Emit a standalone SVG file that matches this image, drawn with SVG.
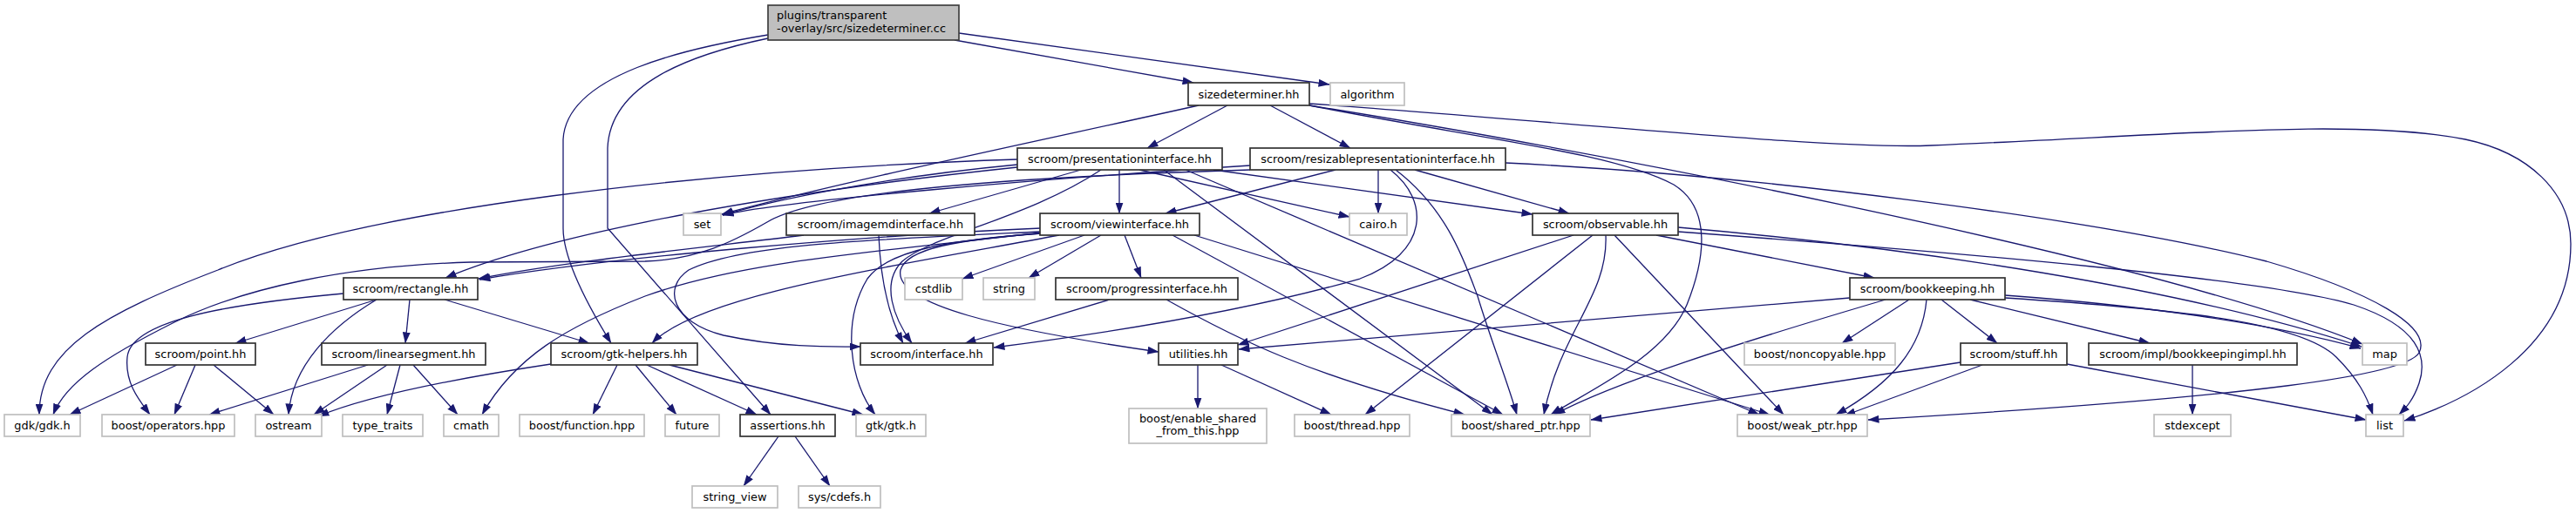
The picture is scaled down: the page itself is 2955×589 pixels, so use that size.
<svg xmlns="http://www.w3.org/2000/svg" width="2955" height="589" viewBox="0 0 2955 589">
<style>
.bg{fill:#ffffff}
.e path{fill:none;stroke:#191970;stroke-width:1.3;marker-end:url(#ah)}
.p rect{fill:#ffffff;stroke:#333333;stroke-width:1.7}
.s rect{fill:#ffffff;stroke:#bfbfbf;stroke-width:1.7}
.m rect{fill:#bfbfbf;stroke:#404040;stroke-width:1.7}
text{font-family:"DejaVu Sans","Liberation Sans",sans-serif;font-size:12.9px;fill:#000000;text-anchor:middle}
text.l{text-anchor:start}
</style>
<defs>
<marker id="ah" markerUnits="userSpaceOnUse" markerWidth="13" markerHeight="9" viewBox="0 0 13 9" refX="12.5" refY="4.5" orient="auto">
<path d="M0,0 L13,4.5 L0,9 z" fill="#191970"/>
</marker>
</defs>
<rect class="bg" x="0" y="0" width="2955" height="589"/>
<g id="edges" class="e">
<path d="M1095,46 L1369,95"/>
<path d="M1100,38 L1525,97"/>
<path d="M881,40 C790,55 650,85 646,160 L646,262 C646,300 680,360 701,394"/>
<path d="M881,44 C795,62 700,95 697,170 L697,262 L884,476"/>
<path d="M1375,121 C1200,160 960,210 828,246"/>
<path d="M1408,121 L1316,170"/>
<path d="M1457,121 L1549,170"/>
<path d="M1502,121 C1700,160 1850,175 1920,212 C1965,240 1955,300 1935,350 C1910,410 1820,450 1779,476"/>
<path d="M1502,121 C1780,165 2450,290 2710,395"/>
<path d="M1502,119 C1800,140 2100,172 2215,167 C2500,155 2700,135 2828,160 C2900,175 2949,220 2949,280 C2949,400 2830,460 2758,483"/>
<path d="M1167,183 C800,195 420,240 250,310 C120,360 45,400 45,476"/>
<path d="M1167,189 C1000,205 880,232 829,247"/>
<path d="M1167,192 C900,220 640,265 511,319"/>
<path d="M1240,195 L1066,245"/>
<path d="M1284,195 L1284,245"/>
<path d="M1263,195 C1180,250 1070,270 1035,300 C1010,325 1025,365 1046,394"/>
<path d="M1307,195 L1548,249"/>
<path d="M1392,195 L1758,246"/>
<path d="M1335,195 L1712,476"/>
<path d="M1360,195 L2018,476"/>
<path d="M1434,190 C1200,205 900,230 829,247"/>
<path d="M1434,195 C1100,205 930,225 880,255 C840,278 800,298 740,300 L540,301 C400,305 280,330 200,370 C120,410 75,440 61,476"/>
<path d="M1532,195 L1337,245"/>
<path d="M1581,195 L1581,245"/>
<path d="M1595,195 C1640,230 1640,290 1560,320 C1420,360 1250,385 1140,399"/>
<path d="M1601,195 C1660,240 1680,300 1695,340 C1710,390 1730,440 1740,476"/>
<path d="M1623,195 L1800,245"/>
<path d="M1727,187 C2000,200 2400,250 2600,300 C2720,335 2790,375 2775,405 C2760,430 2600,455 2143,482"/>
<path d="M922,270 C800,285 650,300 549,320"/>
<path d="M1008,270 C1010,320 1018,360 1036,394"/>
<path d="M1194,262 C1000,270 700,295 550,321"/>
<path d="M1215,270 C1000,310 800,340 748,394"/>
<path d="M1194,266 C1000,275 850,280 790,310 C760,330 770,370 830,385 C900,400 960,398 987,398"/>
<path d="M1194,268 C1100,275 1020,285 995,320 C965,370 975,440 1004,476"/>
<path d="M1244,270 L1104,320"/>
<path d="M1263,270 L1180,319"/>
<path d="M1290,270 L1309,319"/>
<path d="M1194,268 C1100,275 1040,285 1033,310 C1025,350 1150,378 1329,404"/>
<path d="M1345,270 L1724,476"/>
<path d="M1370,270 L2030,476"/>
<path d="M1194,267 C1000,290 850,300 740,340 C650,375 590,410 553,476"/>
<path d="M1805,270 L1420,396"/>
<path d="M1827,270 L1566,476"/>
<path d="M1842,270 C1845,340 1790,380 1771,476"/>
<path d="M1852,270 L2046,476"/>
<path d="M1900,270 L2150,319"/>
<path d="M1925,261 C2200,285 2500,330 2709,398"/>
<path d="M1925,266 C2250,290 2600,320 2700,350 C2775,375 2785,410 2775,440 C2768,460 2760,468 2752,476"/>
<path d="M432,344 L270,394"/>
<path d="M470,344 L465,394"/>
<path d="M510,344 L676,394"/>
<path d="M432,344 C380,375 335,420 331,476"/>
<path d="M394,337 C250,350 150,370 146,410 C143,440 160,460 172,476"/>
<path d="M1273,344 L1107,394"/>
<path d="M1338,344 C1420,390 1500,430 1680,476"/>
<path d="M2122,342 L1421,401"/>
<path d="M2190,344 L2113,394"/>
<path d="M2163,344 C1990,395 1850,440 1783,476"/>
<path d="M2210,344 C2205,400 2170,440 2106,476"/>
<path d="M2227,344 L2291,394"/>
<path d="M2260,344 L2466,394"/>
<path d="M2300,339 C2450,350 2600,370 2708,400"/>
<path d="M2300,342 C2500,355 2640,370 2680,410 C2705,435 2715,455 2722,476"/>
<path d="M203,419 L80,476"/>
<path d="M224,419 L200,476"/>
<path d="M245,419 L314,476"/>
<path d="M422,419 L240,476"/>
<path d="M444,419 L360,476"/>
<path d="M459,419 L444,476"/>
<path d="M474,419 L525,476"/>
<path d="M632,418 C520,435 420,455 365,478"/>
<path d="M708,419 L680,476"/>
<path d="M729,419 L776,476"/>
<path d="M742,419 L868,476"/>
<path d="M768,419 L990,476"/>
<path d="M1374,419 L1374,469"/>
<path d="M1401,419 L1527,476"/>
<path d="M2249,416 L1825,482"/>
<path d="M2274,419 L2116,477"/>
<path d="M2371,418 L2714,482"/>
<path d="M2515,419 L2515,476"/>
<path d="M893,501 L853,558"/>
<path d="M912,501 L952,558"/>
</g>
<g id="n_main" class="m"><rect x="881" y="6" width="219" height="40"/><text class="l" x="891" y="21.5">plugins/transparent</text><text class="l" x="891" y="36.5">-overlay/src/sizedeterminer.cc</text></g>
<g id="n_sizedet" class="p"><rect x="1363" y="95" width="139" height="26"/><text x="1432.5" y="112.5">sizedeterminer.hh</text></g>
<g id="n_algorithm" class="s"><rect x="1526" y="95" width="85" height="26"/><text x="1568.5" y="112.5">algorithm</text></g>
<g id="n_present" class="p"><rect x="1167" y="170" width="235" height="25"/><text x="1284.5" y="187">scroom/presentationinterface.hh</text></g>
<g id="n_resizable" class="p"><rect x="1434" y="170" width="293" height="25"/><text x="1580.5" y="187">scroom/resizablepresentationinterface.hh</text></g>
<g id="n_set" class="s"><rect x="784" y="245" width="43" height="25"/><text x="805.5" y="262">set</text></g>
<g id="n_imagemd" class="p"><rect x="902" y="245" width="216" height="25"/><text x="1010" y="262">scroom/imagemdinterface.hh</text></g>
<g id="n_viewif" class="p"><rect x="1193" y="245" width="183" height="25"/><text x="1284.5" y="262">scroom/viewinterface.hh</text></g>
<g id="n_cairo" class="s"><rect x="1548" y="245" width="66" height="25"/><text x="1581" y="262">cairo.h</text></g>
<g id="n_observable" class="p"><rect x="1758" y="245" width="167" height="25"/><text x="1841.5" y="262">scroom/observable.hh</text></g>
<g id="n_rectangle" class="p"><rect x="394" y="319" width="154" height="25"/><text x="471" y="336">scroom/rectangle.hh</text></g>
<g id="n_cstdlib" class="s"><rect x="1038" y="319" width="66" height="25"/><text x="1071" y="336">cstdlib</text></g>
<g id="n_string" class="s"><rect x="1128" y="319" width="59" height="25"/><text x="1157.5" y="336">string</text></g>
<g id="n_progress" class="p"><rect x="1211" y="319" width="209" height="25"/><text x="1315.5" y="336">scroom/progressinterface.hh</text></g>
<g id="n_bookkeeping" class="p"><rect x="2122" y="319" width="178" height="25"/><text x="2211" y="336">scroom/bookkeeping.hh</text></g>
<g id="n_point" class="p"><rect x="167" y="394" width="126" height="25"/><text x="230" y="411">scroom/point.hh</text></g>
<g id="n_linseg" class="p"><rect x="369" y="394" width="188" height="25"/><text x="463" y="411">scroom/linearsegment.hh</text></g>
<g id="n_gtkhelp" class="p"><rect x="632" y="394" width="168" height="25"/><text x="716" y="411">scroom/gtk-helpers.hh</text></g>
<g id="n_interface" class="p"><rect x="987" y="394" width="152" height="25"/><text x="1063" y="411">scroom/interface.hh</text></g>
<g id="n_utilities" class="p"><rect x="1329" y="394" width="91" height="25"/><text x="1374.5" y="411">utilities.hh</text></g>
<g id="n_noncopy" class="s"><rect x="2001" y="394" width="173" height="25"/><text x="2087.5" y="411">boost/noncopyable.hpp</text></g>
<g id="n_stuff" class="p"><rect x="2249" y="394" width="122" height="25"/><text x="2310" y="411">scroom/stuff.hh</text></g>
<g id="n_bkimpl" class="p"><rect x="2396" y="394" width="239" height="25"/><text x="2515.5" y="411">scroom/impl/bookkeepingimpl.hh</text></g>
<g id="n_map" class="s"><rect x="2710" y="394" width="51" height="25"/><text x="2735.5" y="411">map</text></g>
<g id="n_gdk" class="s"><rect x="5" y="476" width="87" height="25"/><text x="48.5" y="493">gdk/gdk.h</text></g>
<g id="n_operators" class="s"><rect x="117" y="476" width="152" height="25"/><text x="193" y="493">boost/operators.hpp</text></g>
<g id="n_ostream" class="s"><rect x="293" y="476" width="76" height="25"/><text x="331" y="493">ostream</text></g>
<g id="n_typetraits" class="s"><rect x="393" y="476" width="92" height="25"/><text x="439" y="493">type_traits</text></g>
<g id="n_cmath" class="s"><rect x="509" y="476" width="63" height="25"/><text x="540.5" y="493">cmath</text></g>
<g id="n_function" class="s"><rect x="596" y="476" width="143" height="25"/><text x="667.5" y="493">boost/function.hpp</text></g>
<g id="n_future" class="s"><rect x="763" y="476" width="62" height="25"/><text x="794" y="493">future</text></g>
<g id="n_assertions" class="p"><rect x="849" y="476" width="109" height="25"/><text x="903.5" y="493">assertions.hh</text></g>
<g id="n_gtkh" class="s"><rect x="982" y="476" width="80" height="25"/><text x="1022" y="493">gtk/gtk.h</text></g>
<g id="n_enable" class="s"><rect x="1295" y="469" width="158" height="40"/><text x="1374" y="484.5">boost/enable_shared</text><text x="1374" y="499">_from_this.hpp</text></g>
<g id="n_thread" class="s"><rect x="1485" y="476" width="132" height="25"/><text x="1551" y="493">boost/thread.hpp</text></g>
<g id="n_shared" class="s"><rect x="1665" y="476" width="159" height="25"/><text x="1744.5" y="493">boost/shared_ptr.hpp</text></g>
<g id="n_weak" class="s"><rect x="1993" y="476" width="149" height="25"/><text x="2067.5" y="493">boost/weak_ptr.hpp</text></g>
<g id="n_stdexcept" class="s"><rect x="2471" y="476" width="88" height="25"/><text x="2515" y="493">stdexcept</text></g>
<g id="n_list" class="s"><rect x="2714" y="476" width="43" height="25"/><text x="2735.5" y="493">list</text></g>
<g id="n_stringview" class="s"><rect x="794" y="558" width="98" height="25"/><text x="843" y="575">string_view</text></g>
<g id="n_cdefs" class="s"><rect x="916" y="558" width="94" height="25"/><text x="963" y="575">sys/cdefs.h</text></g>
</svg>
